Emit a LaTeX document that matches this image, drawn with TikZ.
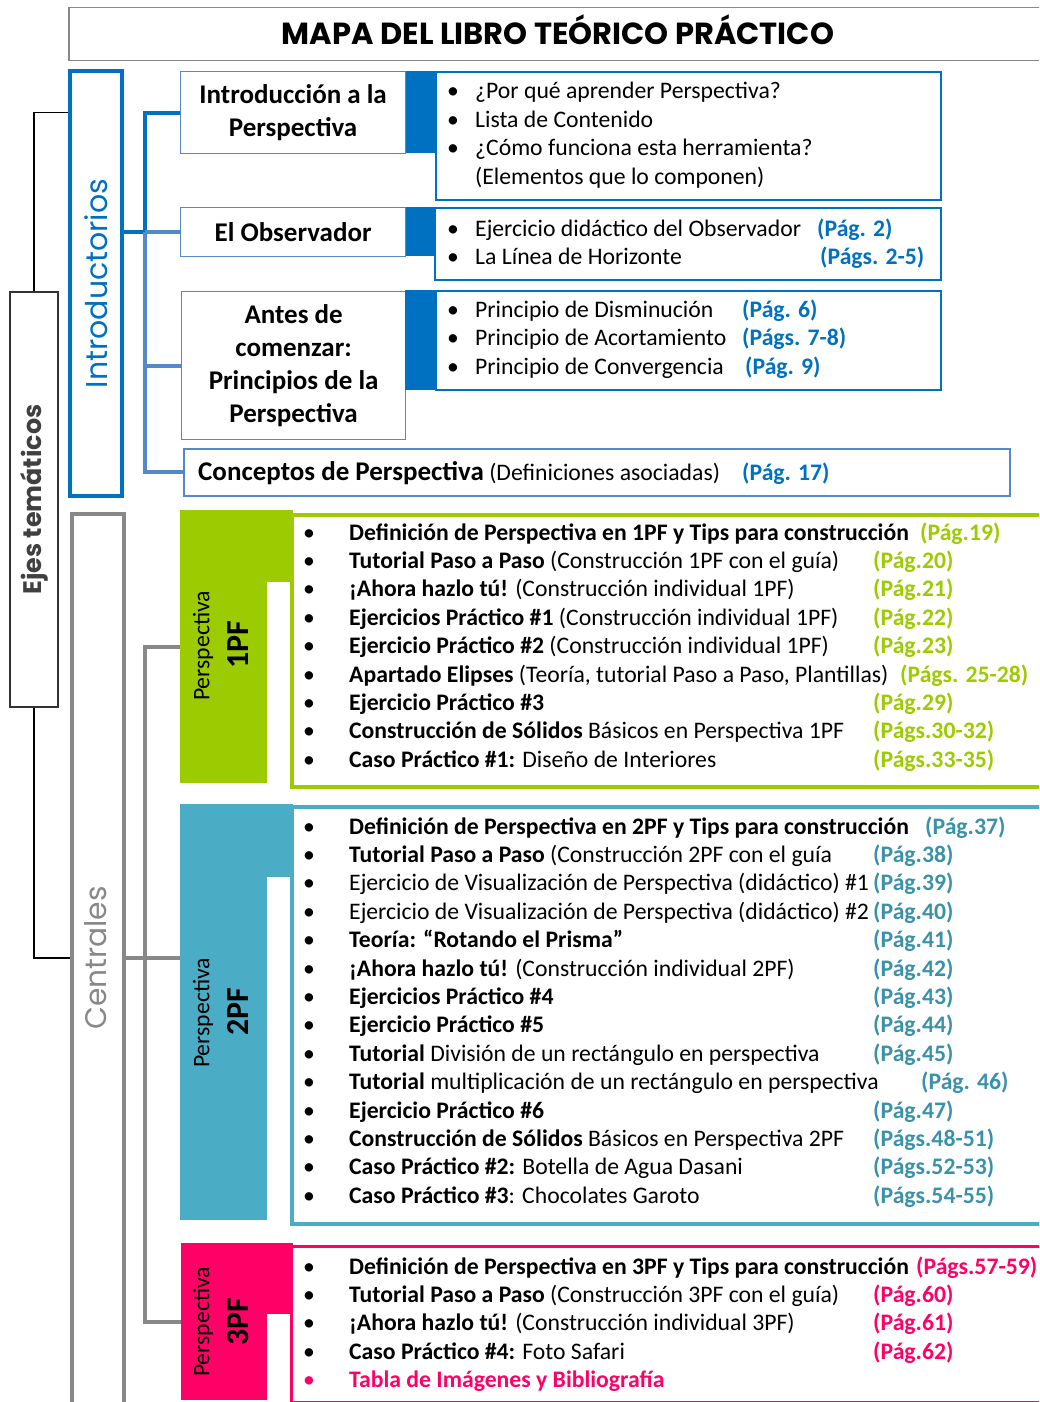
\documentclass[tikz,border=0pt]{standalone}
\usepackage{fontspec}
\setmainfont{Carlito}
\newfontfamily\gothic{Poppins}
\usetikzlibrary{positioning,calc}

\definecolor{azul}{RGB}{0,112,192}
\definecolor{azulclaro}{RGB}{84,136,200}
\definecolor{verde}{RGB}{155,203,0}
\definecolor{turquesa}{RGB}{75,172,198}
\definecolor{turqref}{RGB}{58,145,170}
\definecolor{rosa}{RGB}{255,0,102}
\definecolor{gris}{RGB}{136,136,136}

\tikzset{
  caja/.style={draw, rectangle, inner sep=0pt, anchor=north west},
  item/.style={anchor=base west, inner sep=0pt, font=\fontsize{23.7}{28}\selectfont},
  vineta/.style={anchor=base, inner sep=0pt, font=\fontsize{23.7}{28}\selectfont},
  pag/.style={item, font=\bfseries\fontsize{23.7}{28}\selectfont},
  eje/.style={rotate=90, inner sep=0pt},
  titbox/.style={caja, draw=azulclaro, line width=1.2pt, align=center, font=\bfseries\fontsize{27}{33}\selectfont},
}

\begin{document}
\begin{tikzpicture}[x=1pt, y=-1pt]
    \useasboundingbox (0,0) rectangle (1039,1402);
    \clip (0,0) rectangle (1039,1402);

    % Title
    \node[caja, draw=gris, line width=1.5pt, minimum width=980, minimum height=53] (titulo) at (68,7) {};
    \node[anchor=base, inner sep=0pt, font=\gothic\bfseries\fontsize{30.5}{32}\selectfont] (tittxt) at (558,45)
          {MAPA DEL LIBRO TEÓRICO PRÁCTICO};

    % Axes (left column)
    \node[eje, draw=black!80, line width=1.2pt, minimum width=415, minimum height=48,
          font=\gothic\bfseries\fontsize{25.4}{28}\selectfont, text=black!75] (ejes) at (34,499.5)
          {Ejes temáticos};
    \node[eje, draw=azul, line width=4pt, minimum width=425, minimum height=52,
          font=\gothic\fontsize{30}{32}\selectfont, text=azul] (intaxis) at (96,283.5)
          {Introductorios};
    \node[caja, draw=gris, line width=4pt, minimum width=52, minimum height=950] (cenaxis) at (70,512) {};
    \node[eje, font=\gothic\fontsize{29.7}{32}\selectfont, text=gris] (cenlbl) at (96,958) {Centrales};

    % Introductory blocks
    \node[titbox, minimum width=225, minimum height=82] (introbox) at (180,71)
          {Introducción a la\\Perspectiva};
    \fill[azul] (introbox.north east) rectangle ++(30,82);
    \node[caja, draw=azul, line width=1.8pt, minimum width=505, minimum height=128] (introlist) at (435,71) {};
    \foreach \i/\txt in {0/{¿Por qué aprender Perspectiva?},1/{Lista de Contenido},2/{¿Cómo funciona esta herramienta?}} {
        \node[vineta] (ib\i) at (453,99+\i*28.4) {•};
        \node[item] (it\i) at (475,99+\i*28.4) {\txt};
    }
    \node[item] (it3) at (475,184) {(Elementos que lo componen)};

    \node[titbox, minimum width=225, minimum height=49] (obsbox) at (180,207) {El Observador};
    \fill[azul] (obsbox.north east) rectangle ++(30,49);
    \node[caja, draw=azul, line width=1.8pt, minimum width=506, minimum height=72] (obslist) at (434,207) {};
    \foreach \i/\txt/\rx/\rf in {0/{Ejercicio didáctico del Observador}/817/{(Pág. 2)},1/{La Línea de Horizonte}/820/{(Págs. 2-5)}} {
        \node[vineta] (ob\i) at (453,236+\i*28.4) {•};
        \node[item] (ot\i) at (475,236+\i*28.4) {\txt};
        \node[pag, text=azul] (op\i) at (\rx,236+\i*28.4) {\rf};
    }

    \node[titbox, minimum width=224, minimum height=148] (antesbox) at (181,291)
          {Antes de\\comenzar:\\Principios de la\\Perspectiva};
    \fill[azul] (405,290) rectangle (435,390);
    \node[caja, draw=azul, line width=1.8pt, minimum width=505, minimum height=99] (anteslist) at (435,290) {};
    \foreach \i/\txt/\rx/\rf in {0/{Principio de Disminución}/742/{(Pág. 6)},1/{Principio de Acortamiento}/742/{(Págs. 7-8)},2/{Principio de Convergencia}/745/{(Pág. 9)}} {
        \node[vineta] (ab\i) at (453,317+\i*28.5) {•};
        \node[item] (at\i) at (475,317+\i*28.5) {\txt};
        \node[pag, text=azul] (ap\i) at (\rx,317+\i*28.5) {\rf};
    }

    \node[caja, draw=azulclaro, line width=1.8pt, minimum width=826, minimum height=47] (concbox) at (183,448) {};
    \node[item] (conctxt) at (198,480) {{\bfseries\fontsize{27}{28}\selectfont Conceptos de Perspectiva} (Definiciones asociadas)};
    \node[pag, text=azul] (concpag) at (742,480) {(Pág. 17)};

    % Blue connectors
    \coordinate (itrunk) at (145,0);
    \draw[azul, line width=4pt] (introbox.west) -- (introbox.west -| itrunk) -- (obsbox.west -| itrunk);
    \draw[azul, line width=4pt] (intaxis.south |- obsbox.west) -- (obsbox.west -| itrunk);
    \draw[azulclaro, line width=4pt] (obsbox.west -| itrunk) -- (obsbox.west);
    \draw[azulclaro, line width=4pt] (obsbox.west -| itrunk) |- (antesbox.west);
    \draw[azulclaro, line width=4pt] (antesbox.west -| itrunk) |- (concbox.west);

    % Black bracket
    \draw[black, line width=1.3pt] (ejes.east) |- (introbox.west -| intaxis.north);
    \draw[black, line width=1.3pt] (ejes.west) |- (cenlbl -| cenaxis.west);

    % Central blocks: 1PF
    \node[caja, draw=none, fill=verde, minimum width=87, minimum height=273] (pf1) at (180,510) {};
    \fill[verde] (267,510) rectangle (293,582);
    \node[caja, draw=verde, line width=4pt, minimum width=760, minimum height=272] (pf1list) at (290,513) {};
    \node[eje, font=\fontsize{23.7}{28}\selectfont] (pf1a) at (203,646) {Perspectiva};
    \node[eje, font=\bfseries\fontsize{32}{36}\selectfont] (pf1b) at (238,645) {1PF};
    \foreach \i/\txt/\rx/\rf in {
        0/{\textbf{Definición de Perspectiva en 1PF y Tips para construcción}}/920/{(Pág.19)},
        1/{\textbf{Tutorial Paso a Paso} (Construcción 1PF con el guía)}/873/{(Pág.20)},
        2/{\textbf{¡Ahora hazlo tú!} (Construcción individual 1PF)}/873/{(Pág.21)},
        3/{\textbf{Ejercicios Práctico \#1} (Construcción individual 1PF)}/873/{(Pág.22)},
        4/{\textbf{Ejercicio Práctico \#2} (Construcción individual 1PF)}/873/{(Pág.23)},
        5/{\textbf{Apartado Elipses} (Teoría, tutorial Paso a Paso, Plantillas)}/900/{(Págs. 25-28)},
        6/{\textbf{Ejercicio Práctico \#3}}/873/{(Pág.29)},
        7/{\textbf{Construcción de Sólidos} Básicos en Perspectiva 1PF}/873/{(Págs.30-32)},
        8/{\textbf{Caso Práctico \#1:} Diseño de Interiores}/873/{(Págs.33-35)}} {
        \node[vineta] (v1b\i) at (309,540+\i*28.4) {•};
        \node[item] (v1t\i) at (349,540+\i*28.4) {\txt};
        \node[pag, text=verde] (v1p\i) at (\rx,540+\i*28.4) {\rf};
    }

    % Central blocks: 2PF
    \node[caja, draw=none, fill=turquesa, minimum width=87, minimum height=416] (pf2) at (180,804) {};
    \fill[turquesa] (267,804) rectangle (293,877);
    \node[caja, draw=turquesa, line width=4pt, minimum width=760, minimum height=417] (pf2list) at (290,805) {};
    \node[eje, font=\fontsize{23.7}{28}\selectfont] (pf2a) at (203,1013) {Perspectiva};
    \node[eje, font=\bfseries\fontsize{32}{36}\selectfont] (pf2b) at (238,1012) {2PF};
    \foreach \i/\txt/\rx/\rf in {
        0/{\textbf{Definición de Perspectiva en 2PF y Tips para construcción}}/925/{(Pág.37)},
        1/{\textbf{Tutorial Paso a Paso} (Construcción 2PF con el guía}/873/{(Pág.38)},
        2/{Ejercicio de Visualización de Perspectiva (didáctico) \#1}/873/{(Pág.39)},
        3/{Ejercicio de Visualización de Perspectiva (didáctico) \#2}/873/{(Pág.40)},
        4/{\textbf{Teoría: “Rotando el Prisma”}}/873/{(Pág.41)},
        5/{\textbf{¡Ahora hazlo tú!} (Construcción individual 2PF)}/873/{(Pág.42)},
        6/{\textbf{Ejercicios Práctico \#4}}/873/{(Pág.43)},
        7/{\textbf{Ejercicio Práctico \#5}}/873/{(Pág.44)},
        8/{\textbf{Tutorial} División de un rectángulo en perspectiva}/873/{(Pág.45)},
        9/{\textbf{Tutorial} multiplicación de un rectángulo en perspectiva}/921/{(Pág. 46)},
        10/{\textbf{Ejercicio Práctico \#6}}/873/{(Pág.47)},
        11/{\textbf{Construcción de Sólidos} Básicos en Perspectiva 2PF}/873/{(Págs.48-51)},
        12/{\textbf{Caso Práctico \#2:} Botella de Agua Dasani}/873/{(Págs.52-53)},
        13/{\textbf{Caso Práctico \#3}: Chocolates Garoto}/873/{(Págs.54-55)}} {
        \node[vineta] (v2b\i) at (309,834+\i*28.4) {•};
        \node[item] (v2t\i) at (349,834+\i*28.4) {\txt};
        \node[pag, text=turqref] (v2p\i) at (\rx,834+\i*28.4) {\rf};
    }

    % Central blocks: 3PF
    \node[caja, draw=none, fill=rosa, minimum width=86, minimum height=157] (pf3) at (181,1243) {};
    \fill[rosa] (267,1243) rectangle (293,1314);
    \node[caja, draw=rosa, line width=3pt, minimum width=760, minimum height=156] (pf3list) at (290,1245) {};
    \node[eje, font=\fontsize{23.7}{28}\selectfont] (pf3a) at (203,1322) {Perspectiva};
    \node[eje, font=\bfseries\fontsize{32}{36}\selectfont] (pf3b) at (238,1322) {3PF};
    \foreach \i/\txt/\rx/\rf in {
        0/{\textbf{Definición de Perspectiva en 3PF y Tips para construcción}}/916/{(Págs.57-59)},
        1/{\textbf{Tutorial Paso a Paso} (Construcción 3PF con el guía)}/873/{(Pág.60)},
        2/{\textbf{¡Ahora hazlo tú!} (Construcción individual 3PF)}/873/{(Pág.61)},
        3/{\textbf{Caso Práctico \#4:} Foto Safari}/873/{(Pág.62)}} {
        \node[vineta] (v3b\i) at (309,1274+\i*28.4) {•};
        \node[item] (v3t\i) at (349,1274+\i*28.4) {\txt};
        \node[pag, text=rosa] (v3p\i) at (\rx,1274+\i*28.4) {\rf};
    }
    \node[vineta, text=rosa] (v3b4) at (309,1387.6) {•};
    \node[pag, text=rosa] (v3t4) at (349,1387.6) {Tabla de Imágenes y Bibliografía};

    % Gray connectors
    \coordinate (gtrunk) at (145,0);
    \draw[gris, line width=4pt] (pf1.west) -- (pf1.west -| gtrunk) |- (pf3.west);
    \draw[gris, line width=4pt] (cenlbl -| cenaxis.east) -- (cenlbl -| pf2.west);
\end{tikzpicture}
\end{document}
